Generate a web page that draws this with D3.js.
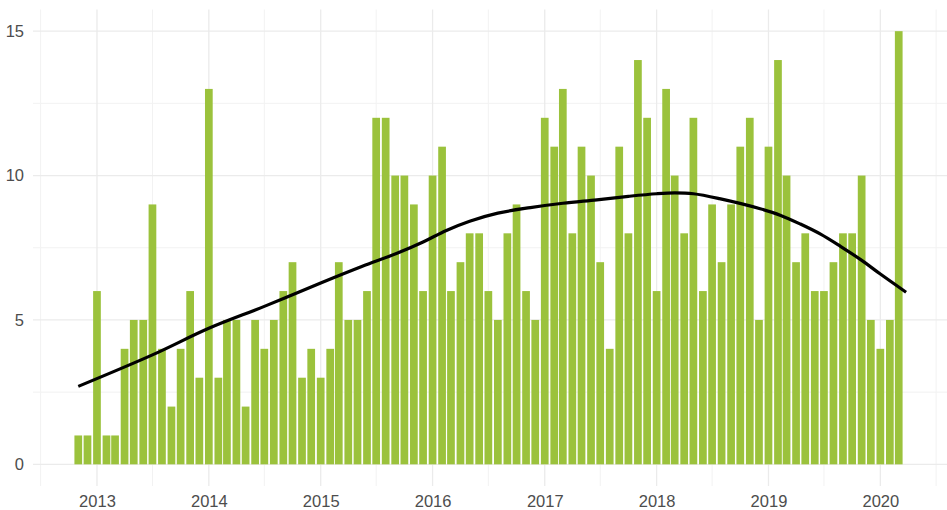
<!DOCTYPE html>
<html lang="en">
  <head>
    <meta charset="UTF-8" />
    <title>Monthly counts</title>
    <script src="https://cdn.jsdelivr.net/npm/d3@7"></script>
    <style>
      body {
        margin: 0;
        background: #fff;
      }
      .bar {
        fill: #9bc23c;
      }
      .grid-major {
        stroke: #ebebeb;
        stroke-width: 1.3;
      }
      .grid-minor {
        stroke: #f2f2f2;
        stroke-width: 1;
      }
      .axis text {
        font-family: "Liberation Sans", Arial, sans-serif;
        font-size: 16.5px;
        fill: #4d4d4d;
      }
    </style>
  </head>
  <body>
    <svg width="947" height="510"></svg>
    <script>
      // monthly counts, Nov 2012 .. Mar 2020
      var firstMonth = "2012-11";
      var counts = [
        1, 1,
        6, 1, 1, 4, 5, 5, 9, 4, 2, 4, 6, 3,
        13, 3, 5, 5, 2, 5, 4, 5, 6, 7, 3, 4,
        3, 4, 7, 5, 5, 6, 12, 12, 10, 10, 9, 6,
        10, 11, 6, 7, 8, 8, 6, 5, 8, 9, 6, 5,
        12, 11, 13, 8, 11, 10, 7, 4, 11, 8, 14, 12,
        6, 13, 10, 8, 12, 6, 9, 7, 9, 11, 12, 5,
        11, 14, 10, 7, 8, 6, 6, 7, 8, 8, 10, 5,
        4, 5, 15
      ];

      // smoothed trend line
      var smoothDates = [
        "2012-11-01", "2013-07-01", "2014-01-01", "2014-07-01", "2015-01-01",
        "2015-05-15", "2015-09-05", "2015-12-01", "2016-02-15", "2016-05-01",
        "2016-08-01", "2016-11-15", "2017-03-01", "2017-06-20", "2017-10-01",
        "2018-01-01", "2018-03-01", "2018-05-01", "2018-07-25", "2018-12-05",
        "2019-02-10", "2019-04-15", "2019-06-20", "2019-08-25", "2019-10-30",
        "2020-01-01", "2020-03-25"
      ];
      var smoothValues = [
        2.70, 3.79, 4.71, 5.47, 6.28,
        6.85, 7.30, 7.70, 8.10, 8.42,
        8.70, 8.89, 9.04, 9.16, 9.28,
        9.37, 9.40, 9.37, 9.20, 8.85,
        8.62, 8.32, 7.97, 7.54, 7.08,
        6.59, 5.96
      ];

      var yTicks = [0, 5, 10, 15];
      var yMinor = [2.5, 7.5, 12.5];

      var svg = d3.select("svg"),
        width = +svg.attr("width"),
        panelLeft = 33,
        panelRight = 944,
        panelTop = 9.5,
        panelBottom = 486;

      var parseMonth = d3.timeParse("%Y-%m");
      var parseDay = d3.timeParse("%Y-%m-%d");

      var start = parseMonth(firstMonth);
      var data = counts.map(function (c, i) {
        return { date: d3.timeMonth.offset(start, i), count: c };
      });

      // bar width like ggplot: 90% of the smallest gap (28 days)
      var barDays = 0.9 * 28;
      var lo = d3.timeHour.offset(data[0].date, -barDays * 12);
      var hi = d3.timeHour.offset(data[data.length - 1].date, barDays * 12);
      var pad = (hi - lo) * 0.05;

      var xScale = d3
        .scaleTime()
        .domain([new Date(+lo - pad), new Date(+hi + pad)])
        .range([panelLeft, panelRight]);

      var yScale = d3
        .scaleLinear()
        .domain([-0.75, 15.75])
        .range([panelBottom, panelTop]);

      var years = d3.timeYear.range(new Date(2013, 0, 1), new Date(2021, 0, 1));
      var halfYears = d3.timeMonth
        .range(new Date(2012, 6, 1), new Date(2021, 0, 1))
        .filter(function (d) {
          return d.getMonth() === 6;
        });

      // grid
      var grid = svg.append("g");
      grid
        .selectAll(".hminor")
        .data(yMinor)
        .enter()
        .append("line")
        .attr("class", "grid-minor")
        .attr("x1", panelLeft)
        .attr("x2", width)
        .attr("y1", function (d) { return yScale(d); })
        .attr("y2", function (d) { return yScale(d); });
      grid
        .selectAll(".vminor")
        .data(halfYears)
        .enter()
        .append("line")
        .attr("class", "grid-minor")
        .attr("x1", function (d) { return xScale(d); })
        .attr("x2", function (d) { return xScale(d); })
        .attr("y1", panelTop)
        .attr("y2", panelBottom);
      grid
        .selectAll(".hmajor")
        .data(yTicks)
        .enter()
        .append("line")
        .attr("class", "grid-major")
        .attr("x1", panelLeft)
        .attr("x2", width)
        .attr("y1", function (d) { return yScale(d); })
        .attr("y2", function (d) { return yScale(d); });
      grid
        .selectAll(".vmajor")
        .data(years)
        .enter()
        .append("line")
        .attr("class", "grid-major")
        .attr("x1", function (d) { return xScale(d); })
        .attr("x2", function (d) { return xScale(d); })
        .attr("y1", panelTop)
        .attr("y2", panelBottom);

      // bars
      function barWidth(d) {
        return xScale(d3.timeHour.offset(d.date, barDays * 24)) - xScale(d.date);
      }
      svg
        .selectAll(".bar")
        .data(data)
        .enter()
        .append("rect")
        .attr("class", "bar")
        .attr("x", function (d) { return xScale(d.date) - barWidth(d) / 2; })
        .attr("width", barWidth)
        .attr("y", function (d) { return yScale(d.count); })
        .attr("height", function (d) { return yScale(0) - yScale(d.count); });

      // smooth line
      var smooth = smoothDates.map(function (d, i) {
        return { date: parseDay(d), value: smoothValues[i] };
      });
      var line = d3
        .line()
        .x(function (d) { return xScale(d.date); })
        .y(function (d) { return yScale(d.value); })
        .curve(d3.curveCatmullRom.alpha(0.5));
      svg
        .append("path")
        .datum(smooth)
        .attr("d", line)
        .attr("fill", "none")
        .attr("stroke", "#000")
        .attr("stroke-width", 3.2)
        .attr("stroke-linecap", "butt");

      // axes
      var xAxis = svg
        .append("g")
        .attr("class", "axis")
        .attr("transform", "translate(0," + panelBottom + ")")
        .call(
          d3.axisBottom(xScale)
            .tickValues(years)
            .tickFormat(d3.timeFormat("%Y"))
            .tickSize(0)
            .tickPadding(9.5)
        );
      xAxis.select(".domain").remove();

      var yAxis = svg
        .append("g")
        .attr("class", "axis")
        .attr("transform", "translate(" + panelLeft + ",0)")
        .call(d3.axisLeft(yScale).tickValues(yTicks).tickSize(0).tickPadding(9));
      yAxis.select(".domain").remove();
    </script>
  </body>
</html>
